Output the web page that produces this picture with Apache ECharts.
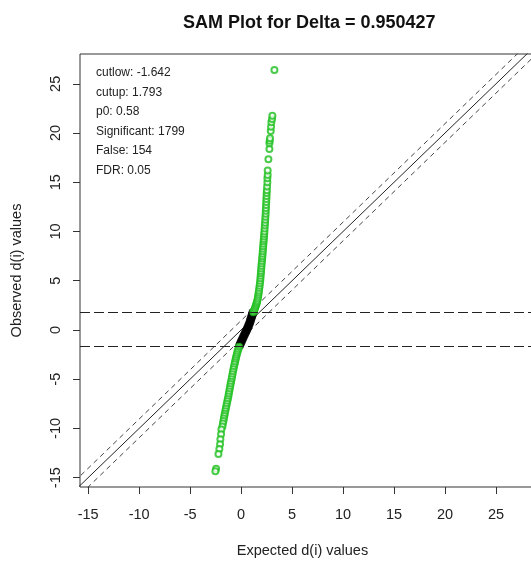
<!DOCTYPE html>
<html>
<head>
<meta charset="utf-8">
<script src="https://cdn.jsdelivr.net/npm/echarts@6/dist/echarts.min.js"></script>
<style>
  html, body { margin: 0; padding: 0; background: #fff; }
  #chart { width: 531px; height: 561px; }
</style>
</head>
<body>
<div id="chart"></div>
<script>
// SAM (Significance Analysis of Microarrays) plot: observed vs expected d(i)
const delta = 0.950427;
const cutlow = -1.642;
const cutup = 1.793;
const summaryLines = [
  'cutlow: -1.642',
  'cutup: 1.793',
  'p0: 0.58',
  'Significant: 1799',
  'False: 154',
  'FDR: 0.05'
];

// axis limits and tick labels
const xMin = -15.8, xMax = 30.4;
const yMin = -15.95, yMax = 28.03;
const xTicks = [-15, -10, -5, 0, 5, 10, 15, 20, 25];
const yTicks = [-15, -10, -5, 0, 5, 10, 15, 20, 25];

// significant genes, positive side (green)
const upperExpected = [1.20,1.27,1.33,1.38,1.43,1.48,1.52,1.56,1.60,
  1.64,1.67,1.70,1.73,1.76,
  1.79,1.82,1.85,1.88,1.90,1.92,1.94,1.96,1.98,2.00,2.02,2.05,2.07,2.09,2.11,2.13,2.15,2.17,2.19,2.21,2.23,2.25,2.27,2.29,
  2.31,2.33,2.35,2.37,2.39,2.41,2.42,2.44,2.45,2.47,2.48,2.50,2.51,2.53,
  2.55,2.58,2.58,2.61,2.61,2.68,2.78,2.78,2.81,2.84,2.91,2.94,2.97,3.04,3.07,3.27];
const upperObserved = [1.80,1.95,2.10,2.25,2.40,2.55,2.70,2.85,3.00,
  3.20,3.40,3.60,3.80,4.00,
  4.25,4.50,4.75,5.00,5.25,5.50,5.75,6.00,6.25,6.50,6.75,7.00,7.25,7.50,7.75,8.00,8.25,8.50,8.75,9.00,9.25,9.50,9.75,10.00,
  10.30,10.60,10.90,11.20,11.50,11.80,12.10,12.40,12.70,13.00,13.30,13.60,13.90,14.20,
  14.56,15.00,15.41,15.75,16.19,17.34,18.39,18.97,19.23,19.47,20.20,20.65,21.10,21.43,21.76,26.40];

// significant genes, negative side (green)
const lowerExpected = [-0.20,-0.26,-0.32,-0.37,-0.42,-0.47,-0.52,-0.56,-0.60,-0.65,
  -0.70,-0.75,-0.80,-0.84,-0.89,-0.93,-0.98,-1.03,-1.07,-1.12,-1.16,-1.21,-1.25,-1.30,-1.35,-1.40,-1.45,-1.50,-1.55,-1.60,-1.64,-1.69,-1.73,-1.78,
  -1.83,
  -1.93,-1.96,-2.03,-2.06,-2.13,-2.22,-2.45,-2.52];
const lowerObserved = [-1.70,-1.90,-2.10,-2.30,-2.50,-2.70,-2.90,-3.10,-3.30,-3.50,
  -3.75,-4.00,-4.25,-4.50,-4.75,-5.00,-5.25,-5.50,-5.75,-6.00,-6.25,-6.50,-6.75,-7.00,-7.25,-7.50,-7.75,-8.00,-8.25,-8.50,-8.75,-9.00,-9.25,-9.50,
  -9.80,
  -10.10,-10.60,-11.10,-11.60,-12.10,-12.60,-14.10,-14.34];

// non-significant genes (black)
const nullExpected = [-0.15,-0.07,0.02,0.10,0.19,0.28,0.37,0.46,0.55,0.64,0.72,0.80,0.87,0.93,0.99,1.05,1.11,1.16];
const nullObserved = [-1.60,-1.40,-1.20,-1.00,-0.80,-0.60,-0.40,-0.20,0.00,0.20,0.40,0.60,0.80,1.00,1.20,1.40,1.60,1.78];

const zip = (xs, ys) => xs.map((x, i) => [x, ys[i]]);
const diag = (offset) => [[xMin - 5, xMin - 5 + offset], [xMax + 5, xMax + 5 + offset]];

const FONT = '"Liberation Sans", Arial, sans-serif';
const green = '#1dbf1d';

const chart = echarts.init(document.getElementById('chart'), null, { renderer: 'canvas' });

chart.setOption({
  animation: false,
  backgroundColor: '#ffffff',
  title: {
    text: 'SAM Plot for Delta = ' + delta,
    left: 178,
    top: 9,
    textStyle: { fontFamily: FONT, fontWeight: 'bold', fontSize: 18, color: '#111' }
  },
  grid: {
    left: 80, top: 54, right: -20, bottom: 74,
    outerBoundsMode: 'none',
    containLabel: false,
    show: true, borderColor: '#333', borderWidth: 1, backgroundColor: 'transparent'
  },
  xAxis: {
    type: 'value', min: xMin, max: xMax,
    name: 'Expected d(i) values', nameLocation: 'middle', nameGap: 56,
    nameTextStyle: { fontFamily: FONT, fontSize: 14.5, color: '#222', padding: [0, 26, 0, 0] },
    axisLine: { show: false, onZero: false },
    splitLine: { show: false },
    axisTick: { show: true, inside: false, length: 7, customValues: xTicks, lineStyle: { color: '#333' } },
    axisLabel: { customValues: xTicks, margin: 20, fontFamily: FONT, fontSize: 14.5, color: '#222' }
  },
  yAxis: {
    type: 'value', min: yMin, max: yMax,
    name: 'Observed d(i) values', nameLocation: 'middle', nameGap: 56, nameRotate: 90,
    nameTextStyle: { fontFamily: FONT, fontSize: 14.5, color: '#222' },
    axisLine: { show: false, onZero: false },
    splitLine: { show: false },
    axisTick: { show: true, inside: false, length: 7, customValues: yTicks, lineStyle: { color: '#333' } },
    axisLabel: { customValues: yTicks, rotate: 90, margin: 17, fontFamily: FONT, fontSize: 14.5, color: '#222' }
  },
  graphic: [{
    type: 'text',
    left: 96,
    top: 63,
    style: {
      text: summaryLines.join('\n'),
      fontFamily: FONT, fontSize: 12, lineHeight: 19.5, fill: '#222'
    }
  }],
  series: [
    {
      type: 'line', data: diag(0), symbol: 'none', clip: true, silent: true,
      lineStyle: { color: '#222', width: 1 }, z: 1
    },
    {
      type: 'line', data: diag(delta), symbol: 'none', clip: true, silent: true,
      lineStyle: { color: '#444', width: 1, type: [5, 4] }, z: 1
    },
    {
      type: 'line', data: diag(-delta), symbol: 'none', clip: true, silent: true,
      lineStyle: { color: '#444', width: 1, type: [5, 4] }, z: 1
    },
    {
      type: 'scatter', data: [], silent: true, z: 1,
      markLine: {
        symbol: 'none', silent: true, label: { show: false },
        lineStyle: { color: '#222', width: 1, type: [10, 4] },
        data: [{ yAxis: cutup }, { yAxis: cutlow }]
      }
    },
    {
      type: 'scatter', data: zip(nullExpected, nullObserved), silent: true, z: 3,
      symbol: 'circle', symbolSize: 9,
      itemStyle: { color: '#000' }
    },
    {
      type: 'scatter', data: zip(upperExpected, upperObserved), silent: true, z: 3,
      symbol: 'emptyCircle', symbolSize: 6,
      itemStyle: { color: green, borderColor: green, borderWidth: 1.3 }
    },
    {
      type: 'scatter', data: zip(lowerExpected, lowerObserved), silent: true, z: 3,
      symbol: 'emptyCircle', symbolSize: 6,
      itemStyle: { color: green, borderColor: green, borderWidth: 1.3 }
    }
  ]
});
</script>
</body>
</html>
